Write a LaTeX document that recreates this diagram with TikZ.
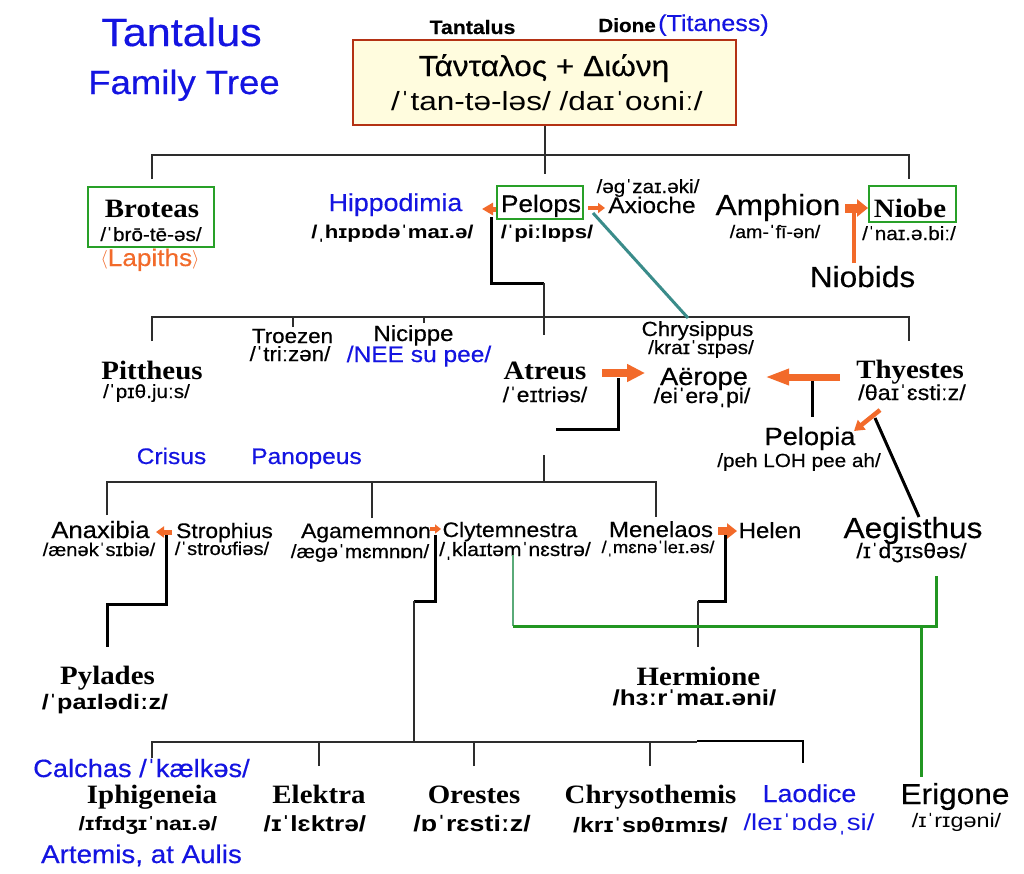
\documentclass[tikz,border=0pt]{standalone}
\usepackage{graphicx}
\usepackage{fontspec}
\setmainfont{Liberation Serif}[FakeStretch=1.09]
\newfontfamily\ar{Liberation Sans}[FakeStretch=1.09,FakeBold=0.4]
\newfontfamily\ipw{Liberation Sans}[FakeStretch=1.2]
\usetikzlibrary{arrows.meta}
\definecolor{tblue}{RGB}{20,20,225}
\definecolor{torange}{RGB}{242,106,42}
\definecolor{tgreen}{RGB}{34,150,34}
\definecolor{lgreen}{RGB}{90,170,120}
\definecolor{tteal}{RGB}{58,140,138}
\definecolor{tline}{RGB}{45,45,45}
\definecolor{boxfill}{RGB}{255,252,222}
\definecolor{boxedge}{RGB}{180,50,20}
\definecolor{gboxc}{RGB}{40,160,40}
\newcommand\fs[1]{\fontsize{#1}{#1}\selectfont}
\newcommand\angl[1]{\raisebox{2pt}{\scalebox{0.75}{$#1$}}}
\begin{document}
\begin{tikzpicture}[x=1pt,y=-1pt,
  lbl/.style={inner sep=0pt,anchor=base},
  nm/.style={lbl,font=\bfseries\fs{26.5}},
  sn/.style={lbl,font=\ar\fs{#1}},
  sb/.style={lbl,font=\ar\bfseries\fs{#1}},
  ipb/.style={lbl,font=\ipw\bfseries\fs{#1}},
  ipr/.style={lbl,font=\ipw\fs{#1}},
  bl/.style={text=tblue},
  tree/.style={draw=tline,line width=2pt},
  bond/.style={draw=black,line width=3pt},
  gbox/.style={draw=gboxc,line width=2pt,inner sep=0pt},
  oa/.style={draw=torange,line width=#1},
]
\fill[white] (0,0) rectangle (1024,873);
\useasboundingbox (0,0) rectangle (1024,873);

% ---------- title ----------
\node[sn=39.5,bl] (title1) at (181.5,46) {Tantalus};
\node[sn=33.5,bl] (title2) at (184,94) {Family Tree};
\node[sb=19.5] (tanlbl) at (472.5,34) {Tantalus};
\node[sb=19,anchor=base east] (dilbl) at (656,32) {Dione};
\node[sn=23,bl,anchor=base west] (titaness) at (658,31) {(Titaness)};

% ---------- top box ----------
\node[draw=boxedge,fill=boxfill,line width=1.2pt,minimum width=383pt,minimum height=85pt,inner sep=0pt] (topbox) at (544.5,82.5) {};
\node[sn=29] (greek) at (544,76) {Τάνταλος + Διώνη};
\node[ipr=26.3] (topipa) at (547,110) {/ˈtan-tə-ləs/ /daɪˈoʊniː/};

% ---------- generation 1 ----------
\node[gbox,minimum width=126pt,minimum height=60pt] (brotbox) at (151,217) {};
\node[nm] (broteas) at (152,217) {Broteas};
\node[sn=19] (broteasipa) at (151,241) {/ˈbrō-tē-əs/};
\node[sn=24,text=torange] (lapiths) at (150,266) {\angl{\langle}Lapiths\angl{\rangle}};

\node[sn=24.5,bl] (hippo) at (395.5,211) {Hippodimia};
\node[ipb=18.5] (hippoipa) at (392.5,238) {/ˌhɪpɒdəˈmaɪ.ə/};

\node[gbox,minimum width=86pt,minimum height=33pt] (pelbox) at (540,202.5) {};
\node[sn=24] (pelops) at (541,212) {Pelops};
\node[ipb=18.5] (pelopsipa) at (547,238) {/ˈpiːlɒps/};
\node[sn=19] (axipa) at (648,193) {/əgˈzaɪ.əki/};
\node[sn=22.5] (axioche) at (652,213) {Axioche};

\node[sn=29] (amphion) at (778,215) {Amphion};
\node[sn=18] (amphipa) at (775,238) {/am-ˈfī-ən/};
\node[gbox,minimum width=87pt,minimum height=36pt] (niobox) at (912.5,204) {};
\node[nm] (niobe) at (910,217) {Niobe};
\node[sn=19] (niobeipa) at (909,240) {/ˈnaɪ.ə.biː/};
\node[sn=29] (niobids) at (862.5,287) {Niobids};

% ---------- generation 2 ----------
\node[sn=20.5] (troezen) at (292.5,343) {Troezen};
\node[sn=20.5] (troezenipa) at (290,361) {/ˈtriːzən/};
\node[sn=22] (nicippe) at (413.5,341) {Nicippe};
\node[sn=22.5,bl] (nicippeipa) at (419,362) {/NEE su pee/};
\node[nm] (pittheus) at (152,379) {Pittheus};
\node[sn=19] (pittheusipa) at (146.5,398) {/ˈpɪθ.juːs/};
\node[sn=20.5] (chrysippus) at (697.5,336) {Chrysippus};
\node[sn=19] (chrysippusipa) at (701,354) {/kraɪˈsɪpəs/};
\node[nm] (atreus) at (545,379) {Atreus};
\node[sn=21] (atreusipa) at (545,402) {/ˈeɪtriəs/};
\node[sn=25] (aerope) at (704,385) {Aërope};
\node[sn=21] (aeropeipa) at (702,403) {/eiˈerəˌpi/};
\node[nm] (thyestes) at (910,378) {Thyestes};
\node[sn=21.5] (thyestesipa) at (912,400) {/θaɪˈɛstiːz/};
\node[sn=25] (pelopia) at (810,445) {Pelopia};
\node[sn=19] (pelopiaipa) at (799,467) {/peh LOH pee ah/};

% ---------- generation 3 ----------
\node[sn=22.5,bl] (crisus) at (171.5,464) {Crisus};
\node[sn=22.5,bl] (panopeus) at (306.5,464) {Panopeus};
\node[sn=23.5] (anaxibia) at (100.5,538) {Anaxibia};
\node[sn=18.5] (anaxibiaipa) at (99,556) {/ænəkˈsɪbiə/};
\node[sn=21] (strophius) at (224.5,538) {Strophius};
\node[sn=18.5] (strophiusipa) at (222,555) {/ˈstroʊfiəs/};
\node[sn=21] (agamemnon) at (366,538) {Agamemnon};
\node[sn=19] (agamemnonipa) at (360,558) {/æɡəˈmɛmnɒn/};
\node[sn=21] (clyt) at (510,537) {Clytemnestra};
\node[sn=19.3] (clytipa) at (515,556) {/ˌklaɪtəmˈnɛstrə/};
\node[sn=22] (menelaos) at (661,537) {Menelaos};
\node[sn=17] (menelaosipa) at (658,553) {/ˌmɛnəˈleɪ.əs/};
\node[sn=22] (helen) at (770,538) {Helen};
\node[sn=29] (aegisthus) at (913,538) {Aegisthus};
\node[sn=21] (aegisthusipa) at (911.5,558) {/ɪˈdʒɪsθəs/};

% ---------- generation 4 ----------
\node[nm] (pylades) at (107.5,684) {Pylades};
\node[ipb=21] (pyladesipa) at (105,709) {/ˈpaɪlədiːz/};
\node[nm] (hermione) at (698.5,685) {Hermione};
\node[ipb=21.7] (hermioneipa) at (694.5,705) {/hɜːrˈmaɪ.əni/};

\node[sn=25,bl] (calchas) at (141.5,777) {Calchas /ˈkælkəs/};
\node[nm] (iphigeneia) at (152,803) {Iphigeneia};
\node[ipb=19.3] (iphipa) at (148,830) {/ɪfɪdʒɪˈnaɪ.ə/};
\node[sn=25.5,bl] (artemis) at (141.5,863) {Artemis, at Aulis};
\node[nm] (elektra) at (319,803) {Elektra};
\node[ipb=21.9] (elektraipa) at (315,831) {/ɪˈlɛktrə/};
\node[nm] (orestes) at (474,803) {Orestes};
\node[ipb=22.3] (orestesipa) at (472,831) {/ɒˈrɛstiːz/};
\node[nm] (chrysothemis) at (650.5,803) {Chrysothemis};
\node[ipb=20.8] (chrysothemisipa) at (650.5,832) {/krɪˈsɒθɪmɪs/};
\node[sn=24.5,bl] (laodice) at (809.5,802) {Laodice};
\node[ipr=23,bl] (laodiceipa) at (809,830) {/leɪˈɒdəˌsi/};
\node[sn=29] (erigone) at (955,804) {Erigone};
\node[ipr=19.5] (erigoneipa) at (956.5,827) {/ɪˈrɪɡəni/};

% ---------- coordinates ----------
\coordinate (L1y) at (0,155);
\coordinate (L1a) at (152,179);
\coordinate (L1b) at (909,179);
\coordinate (L1c) at (544.5,174);
\coordinate (pb1) at (491,217);
\coordinate (pb2) at (544,283);
\coordinate (L2c) at (544,335);
\coordinate (L2y) at (0,317);
\coordinate (L2a) at (152,341);
\coordinate (L2b) at (909,341);
\coordinate (L2t1) at (293,327);
\coordinate (L2t2) at (424,323);
\coordinate (tealA) at (593,213);
\coordinate (tealB) at (688,318);
\coordinate (ab1) at (556,429);
\coordinate (ab2) at (618,378);
\coordinate (L3t) at (544,455);
\coordinate (L3y) at (0,482);
\coordinate (L3a) at (107,515);
\coordinate (L3b) at (372,518);
\coordinate (L3c) at (656,517);
\coordinate (tp1) at (812,379);
\coordinate (tp2) at (812,417);
\coordinate (ta1) at (875,418);
\coordinate (ta2) at (919,517);
\coordinate (sb1) at (166,531);
\coordinate (sb2) at (107,604);
\coordinate (sb3) at (107,647);
\coordinate (gb1) at (435.5,535);
\coordinate (gb2) at (414,601);
\coordinate (mb1) at (725,535);
\coordinate (mb2) at (698,601);
\coordinate (mb3) at (698,647);
\coordinate (L4y) at (0,742);
\coordinate (L4a) at (152,758);
\coordinate (L4m) at (697,742);
\coordinate (L4r) at (803,741);
\coordinate (L4re) at (803,763);
\coordinate (L4b) at (319,766);
\coordinate (L4c) at (474,766);
\coordinate (L4d) at (650,766);
\coordinate (g1) at (513,555);
\coordinate (g2) at (936,576);
\coordinate (gy) at (0,626);
\coordinate (g3) at (921,777);

% ---------- tree lines ----------
\draw[tree] (topbox.south) -- (L1c);
\draw[tree] (L1a) -- (L1a |- L1y) -- (L1b |- L1y) -- (L1b);
\draw[bond] (pb1) |- (pb2);
\draw[tree,line width=1.5pt] (pb2) -- (L2c);
\draw[tree] (L2a) -- (L2a |- L2y) -- (L2b |- L2y) -- (L2b);
\draw[tree] (L2t1) -- (L2t1 |- L2y);
\draw[tree] (L2t2) -- (L2t2 |- L2y);
\draw[tteal,line width=3pt] (tealA) -- (tealB);
\draw[bond] (ab1) -| (ab2);
\draw[tree] (L3t) -- (L3t |- L3y);
\draw[tree] (L3a) -- (L3a |- L3y) -- (L3c |- L3y) -- (L3c);
\draw[tree] (L3b) -- (L3b |- L3y);
\draw[bond] (tp1) -- (tp2);
\draw[bond] (ta1) -- (ta2);
\draw[bond] (sb1) |- (sb2) -- (sb3);
\draw[bond] (gb1) |- (gb2);
\draw[tree] (gb2) -- (gb2 |- L4y);
\draw[bond] (mb1) |- (mb2);
\draw[tree] (mb2) -- (mb3);
\draw[tree] (L4a) -- (L4a |- L4y) -- (L4m);
\draw[bond,line width=2.5pt] (L4m |- L4r) -- (L4r) -- (L4re);
\draw[tree] (L4b) -- (L4b |- L4y);
\draw[tree] (L4c) -- (L4c |- L4y);
\draw[tree] (L4d) -- (L4d |- L4y);
\draw[lgreen,line width=2.5pt] (g1) -- (g1 |- gy);
\draw[tgreen,line width=3pt] (g1 |- gy) -| (g2);
\draw[tgreen,line width=3pt] (g3 |- gy) -- (g3);

% ---------- orange arrows ----------
\coordinate (o1t) at (482,209);
\coordinate (o2s) at (588,208);
\coordinate (o2t) at (605,208);
\coordinate (o3s) at (845,208);
\coordinate (ov1) at (854,263);
\coordinate (ov2) at (854,210);
\coordinate (o5s) at (602,373);
\coordinate (o5t) at (645,373);
\coordinate (o6s) at (840,377);
\coordinate (o6t) at (765,377);
\coordinate (o7s) at (880,410);
\coordinate (o7t) at (854,431);
\coordinate (o8s) at (172,532);
\coordinate (o8t) at (156,532);
\coordinate (o9s) at (430,529);
\coordinate (o9t) at (441,529);
\coordinate (o10s) at (718,531);
\coordinate (o10t) at (737,531);
\draw[oa=5pt,-{Triangle[length=11pt,width=12pt]}] (pelbox.west |- o1t) -- (o1t);
\draw[oa=4pt,-{Triangle[length=7pt,width=10pt]}] (o2s) -- (o2t);
\draw[oa=9pt,-{Triangle[length=11pt,width=17pt]}] (o3s) -- (niobox.west |- o3s);
\draw[oa=4pt] (ov1) -- (ov2);
\draw[oa=8pt,-{Triangle[length=18pt,width=17pt]}] (o5s) -- (o5t);
\draw[oa=7pt,-{Triangle[length=24pt,width=15pt]}] (o6s) -- (o6t);
\draw[oa=4.5pt,-{Triangle[length=10pt,width=12pt]}] (o7s) -- (o7t);
\draw[oa=5pt,-{Triangle[length=8pt,width=11pt]}] (o8s) -- (o8t);
\draw[oa=4pt,-{Triangle[length=6pt,width=9pt]}] (o9s) -- (o9t);
\draw[oa=8pt,-{Triangle[length=10pt,width=15pt]}] (o10s) -- (o10t);
\end{tikzpicture}
\end{document}
